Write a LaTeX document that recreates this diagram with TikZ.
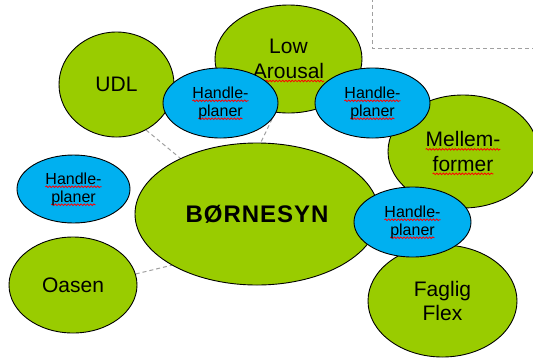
\documentclass[tikz,border=0pt]{standalone}
\usepackage{fontspec}
\setmainfont{Liberation Sans}
\usetikzlibrary{shapes.geometric,backgrounds,decorations.pathmorphing}
\definecolor{lgreen}{HTML}{99CC00}
\definecolor{lblue}{HTML}{00B0F0}
\definecolor{dgray}{HTML}{A0A0A0}
\newsavebox\wbox
\newlength\wlen
\newcommand\redwave[1]{\sbox\wbox{#1}\setlength\wlen{\wd\wbox}\tikz[overlay,baseline=0pt]\draw[red,solid,line width=0.8pt,decorate,decoration={snake,amplitude=0.8pt,segment length=3.2pt}] (0pt,-2.6pt) -- (\wlen,-2.6pt);\usebox\wbox}
\begin{document}
\begin{tikzpicture}[x=1pt,y=-1pt,
  bubble/.style={ellipse, draw=black, line width=0.9pt, inner sep=0pt, align=center,
    font=\fontsize{21}{24.5}\selectfont},
  gbub/.style={bubble, fill=lgreen},
  bbub/.style={bubble, fill=lblue, font=\fontsize{16}{18}\selectfont,
    minimum width=115pt, minimum height=70pt},
  link/.style={draw=dgray, line width=1pt, dash pattern=on 4pt off 3pt}]
\useasboundingbox (0,0) rectangle (533,360);
% green bubbles
\node[gbub, minimum width=115pt, minimum height=105pt] (udl) at (116.5,84.5) {UDL};
\node[gbub, minimum width=147pt, minimum height=108pt] (low) at (288.5,59) {Low\\\redwave{Arousal}};
\node[gbub, minimum width=150pt, minimum height=113pt] (mellem) at (463,151.5) {\redwave{Mellem-}\\\redwave{former}};
\node[gbub, minimum width=244pt, minimum height=142pt, font=\fontsize{24}{28}\selectfont\bfseries\addfontfeature{LetterSpace=4}] (borne) at (257,214) {BØRNESYN};
\node[gbub, minimum width=128pt, minimum height=96pt] (oasen) at (73,285) {Oasen};
\node[gbub, minimum width=149pt, minimum height=112pt] (faglig) at (442.5,301) {Faglig\\Flex};
% blue bubbles
\node[bbub] (h1) at (220.5,103) {\redwave{Handle-}\\\redwave{planer}};
\node[bbub] (h2) at (372.5,103) {\redwave{Handle-}\\\redwave{planer}};
\node[bbub, minimum width=113pt, minimum height=68pt] (h3) at (73.5,189) {\redwave{Handle-}\\\redwave{planer}};
\node[bbub, minimum width=117pt] (h4) at (412.5,222) {\redwave{Handle-}\\\redwave{planer}};
% dashed connectors behind
\begin{scope}[on background layer]
\draw[link] (udl.-57) -- (borne.144);
\draw[link] (oasen.10) -- (borne.211);
\draw[link] (low.-104) -- (borne.87);
\draw[link] (372,-2) -- (372,48) -- (540,48);
\end{scope}
\end{tikzpicture}
\end{document}
